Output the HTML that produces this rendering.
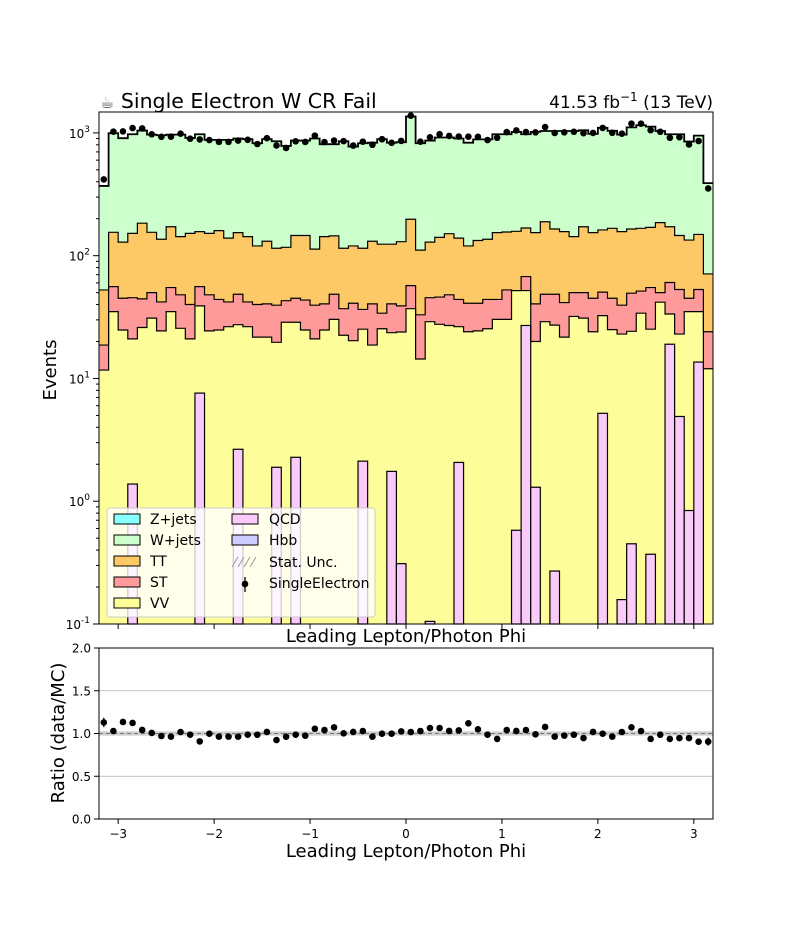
<!DOCTYPE html>
<html><head><meta charset="utf-8"><style>
body{margin:0;background:#fff;}
svg{display:block;font-family:"DejaVu Sans","Liberation Sans",sans-serif;}
</style></head><body>
<svg id="chart" width="792" height="936" viewBox="0 0 792 936" xmlns="http://www.w3.org/2000/svg">
<rect width="792" height="936" fill="#fff"/>
<g id="main"></g>
<g id="ratio"></g>
<text x="100" y="108" font-size="20.5"><tspan fill="#555" font-size="16">☕</tspan> Single Electron W CR Fail</text>
<text x="713" y="108" font-size="17" text-anchor="end">41.53 fb<tspan dy="-7" font-size="12">−1</tspan><tspan dy="7"> (13 TeV)</tspan></text>
<text x="56" y="370" font-size="18" text-anchor="middle" transform="rotate(-90 56 370)">Events</text>
<text x="406" y="642" font-size="18" text-anchor="middle">Leading Lepton/Photon Phi</text>
<text x="64" y="733" font-size="18" text-anchor="middle" transform="rotate(-90 64 733)">Ratio (data/MC)</text>
<text x="406" y="857" font-size="18" text-anchor="middle">Leading Lepton/Photon Phi</text>
</svg>
<script>
const xTicks=[-3,-2,-1,0,1,2,3];
const xTickLabels=["−3","−2","−1","0","1","2","3"];
const ratioTicks=[0,0.5,1,1.5,2];
const ratioTickLabels=["0.0","0.5","1.0","1.5","2.0"];
const binLow=-3.2, binWidth=0.1;
const totalStack=[370,995,906,975,1045,968,957,968,968,910,975,877,877,877,900,890,824,890,855,783,866,866,900,809,809,855,774,824,832,890,832,840,1358,824,866,917,917,900,832,886,886,975,975,1018,975,1020,1037,1037,1037,1037,1050,982,1100,1040,968,1110,1155,1125,1037,975,975,850,950,390];
const ttStack=[52.6,155,129,152,184,155,136,172,143,152,157,152,160,139,154,143,120,131,115,117,146,146,113,143,145,115,120,115,131,124,124,130,198,111,129,141,151,139,120,133,136,154,156,158,168,154,189,165,157,143,172,154,162,167,157,165,167,170,186,172,146,134,149,71];
const stStack=[18.7,56,45,45.5,44.5,50,42,55,48,40,56,48,44,42,48.5,42,40,40.5,39.5,43,45,43.5,39.5,40.5,48.5,37,41,36.5,40.5,34,40.5,39,57,33,45.5,46,48,44,41,41,44,44,52.6,52,67.6,40.5,48.5,48.5,41.5,50,50,45,50.5,45,39.5,49.5,51.5,55,50,60.5,53,45,53,24];
const vvStack=[11.7,35,24.8,21,26,31,24.4,35,25.6,21,39,24.4,24.8,26.4,27.4,26.4,21.7,21.7,19.7,28.7,28.7,24.8,21,24.8,30.3,22.5,20.3,25.2,18.7,25.4,23.6,23.9,37,14.4,29,27.6,27,26.4,24,24.4,25.4,30.3,30.3,52,52,20,29,27.2,21.7,32,31,24,32.5,25,23,24.2,34,25.2,41.8,33.5,23,35,35,12];
const qcd=[0,0,0,1.38,0,0,0,0,0,0,7.6,0,0,0,2.65,0,0,0,1.89,0,2.28,0,0,0,0,0,0,2.12,0,0,1.75,0.31,0,0,0.105,0,0,2.07,0,0,0,0,0,0.58,27,1.3,0,0.27,0,0,0,0,5.2,0,0.158,0.45,0,0.37,0,19,4.9,0.84,13.6,0];
const dataCounts=[418,1024,1028,1095,1088,974,929,932,985,897,885,875,845,845,867,878,812,906,790,754,854,844,950,842,867,857,788,848,801,888,830,861,1382,848,921,976,944,933,931,929,874,913,1015,1048,1015,1010,1116,999,1011,1022,994,1000,1098,1002,985,1190,1188,1053,1022,913,923,805,859,353];

const NS="http://www.w3.org/2000/svg";
const L=99,R=713,T=112,B=624,RT=648,RB=819;
const xs=v=>L+(v+3.2)/6.4*(R-L);
const ys=v=>{if(v<=0.1)return B;return B-(Math.log10(v)+1)*(B-T)/(Math.log10(1480)+1);};
const rs=v=>RB-v/2*(RB-RT);
function el(tag,attrs,parent){const e=document.createElementNS(NS,tag);for(const k in attrs)e.setAttribute(k,attrs[k]);parent.appendChild(e);return e;}
const main=document.getElementById('main'), ratio=document.getElementById('ratio');
const n=totalStack.length;
function stepPath(arr,closed){let d='';for(let i=0;i<n;i++){const x0=xs(binLow+i*binWidth),x1=xs(binLow+(i+1)*binWidth),y=ys(arr[i]);d+=(i===0?(closed?`M${x0},${B}L${x0},${y}`:`M${x0},${y}`):`L${x0},${y}`)+`L${x1},${y}`;}if(closed)d+=`L${R},${B}Z`;return d;}
const layers=[[totalStack,'#ccffcc','wjets-fill'],[ttStack,'#fdc966','tt-fill'],[stStack,'#fe9a9a','st-fill'],[vvStack,'#fdfd99','vv-fill']];
for(const [arr,c,name] of layers){
 const p=el('path',{d:stepPath(arr,true),fill:c,stroke:'none'},main);
 
 
}
for(let i=0;i<n;i++){if(qcd[i]>0){const x0=xs(binLow+i*binWidth),x1=xs(binLow+(i+1)*binWidth);
 const r=el('rect',{x:x0,y:ys(qcd[i]),width:x1-x0,height:B-ys(qcd[i]),fill:'#facafa',stroke:'#000','stroke-width':1.2},main);
 
 }}
for(const [arr,c,name] of layers.slice(1).reverse()){
 const p=el('path',{d:stepPath(arr,false),fill:'none',stroke:'#000','stroke-width':1.2},main);
 
 
}
const tot=el('path',{d:stepPath(totalStack,false),fill:'none',stroke:'#000','stroke-width':1.8},main);


for(let i=0;i<n;i++){const xc=xs(binLow+(i+0.5)*binWidth),y=ys(dataCounts[i]),e=Math.sqrt(dataCounts[i]);
 el('line',{x1:xc,x2:xc,y1:ys(dataCounts[i]+e),y2:ys(dataCounts[i]-e),stroke:'#000','stroke-width':1.2},main);
 const c=el('circle',{cx:xc,cy:y,r:3.3,fill:'#000'},main);
 
 }
el('rect',{x:L,y:T,width:R-L,height:B-T,fill:'none',stroke:'#000','stroke-width':1},main);
for(let p=-1;p<=3;p++){const y=ys(Math.pow(10,p));el('line',{x1:L-6,x2:L,y1:y,y2:y,stroke:'#000'},main);
 const t=el('text',{x:L-9,y:y+5,'font-size':12,'text-anchor':'end'},main);t.innerHTML=`10<tspan dy="-6" font-size="9">${p}</tspan>`;
 
 
 if(p<3)for(let m=2;m<10;m++){const ym=ys(m*Math.pow(10,p));el('line',{x1:L-3,x2:L,y1:ym,y2:ym,stroke:'#000'},main);}}
for(const v of xTicks){const x=xs(v);el('line',{x1:x,x2:x,y1:B,y2:B+5,stroke:'#000'},main);}
const lg=el('g',{},main);
el('rect',{x:107,y:508,width:268,height:109,rx:3,fill:'#fff','fill-opacity':0.8,stroke:'#ccc'},lg);
const legL=[['Z+jets','#88ffff'],['W+jets','#ccffcc'],['TT','#fdc966'],['ST','#fe9a9a'],['VV','#fdfd99']];
legL.forEach((e,i)=>{const y=514+i*21;el('rect',{x:114,y:y,width:26,height:10,fill:e[1],stroke:'#000'},lg);const t=el('text',{x:150,y:y+10,'font-size':14},lg);t.textContent=e[0];
 
 });
[['QCD','#facafa'],['Hbb','#ccccff']].forEach((e,i)=>{const y=514+i*21;el('rect',{x:232,y:y,width:26,height:10,fill:e[1],stroke:'#000'},lg);const t=el('text',{x:269,y:y+10,'font-size':14},lg);t.textContent=e[0];
 
 });
for(let k=0;k<4;k++)el('line',{x1:232+k*6,y1:567,x2:238+k*6,y2:557,stroke:'#999'},lg);
let t1=el('text',{x:269,y:567,'font-size':14},lg);t1.textContent='Stat. Unc.';
el('line',{x1:245,x2:245,y1:577,y2:592,stroke:'#000','stroke-width':1.3},lg);el('circle',{cx:245,cy:584,r:3.3},lg);
let t2=el('text',{x:269,y:588,'font-size':14},lg);t2.textContent='SingleElectron';
for(const v of [0.5,1.5])el('line',{x1:L,x2:R,y1:rs(v),y2:rs(v),stroke:'#b0b0b0','stroke-width':0.8},ratio);
el('rect',{x:L,y:rs(1.025),width:R-L,height:rs(0.975)-rs(1.025),fill:'#bbb','fill-opacity':0.7},ratio);
el('line',{x1:L,x2:R,y1:rs(1),y2:rs(1),stroke:'#777','stroke-dasharray':'4,3'},ratio);
for(let i=0;i<n;i++){const xc=xs(binLow+(i+0.5)*binWidth),r=dataCounts[i]/totalStack[i],e=Math.sqrt(dataCounts[i])/totalStack[i];
 el('line',{x1:xc,x2:xc,y1:rs(r+e),y2:rs(r-e),stroke:'#000','stroke-width':1.2},ratio);
 const c=el('circle',{cx:xc,cy:rs(r),r:3.3,fill:'#000'},ratio);
 
 }
el('rect',{x:L,y:RT,width:R-L,height:RB-RT,fill:'none',stroke:'#000'},ratio);
ratioTicks.forEach((v,i)=>{const y=rs(v);el('line',{x1:L-5,x2:L,y1:y,y2:y,stroke:'#000'},ratio);const t=el('text',{x:L-8,y:y+4.5,'font-size':12,'text-anchor':'end'},ratio);t.textContent=ratioTickLabels[i];
 
 });
xTicks.forEach((v,i)=>{const x=xs(v);el('line',{x1:x,x2:x,y1:RB,y2:RB+5,stroke:'#000'},ratio);const t=el('text',{x:x,y:RB+19,'font-size':12,'text-anchor':'middle'},ratio);t.textContent=xTickLabels[i];
 
 });
</script>
</body></html>
